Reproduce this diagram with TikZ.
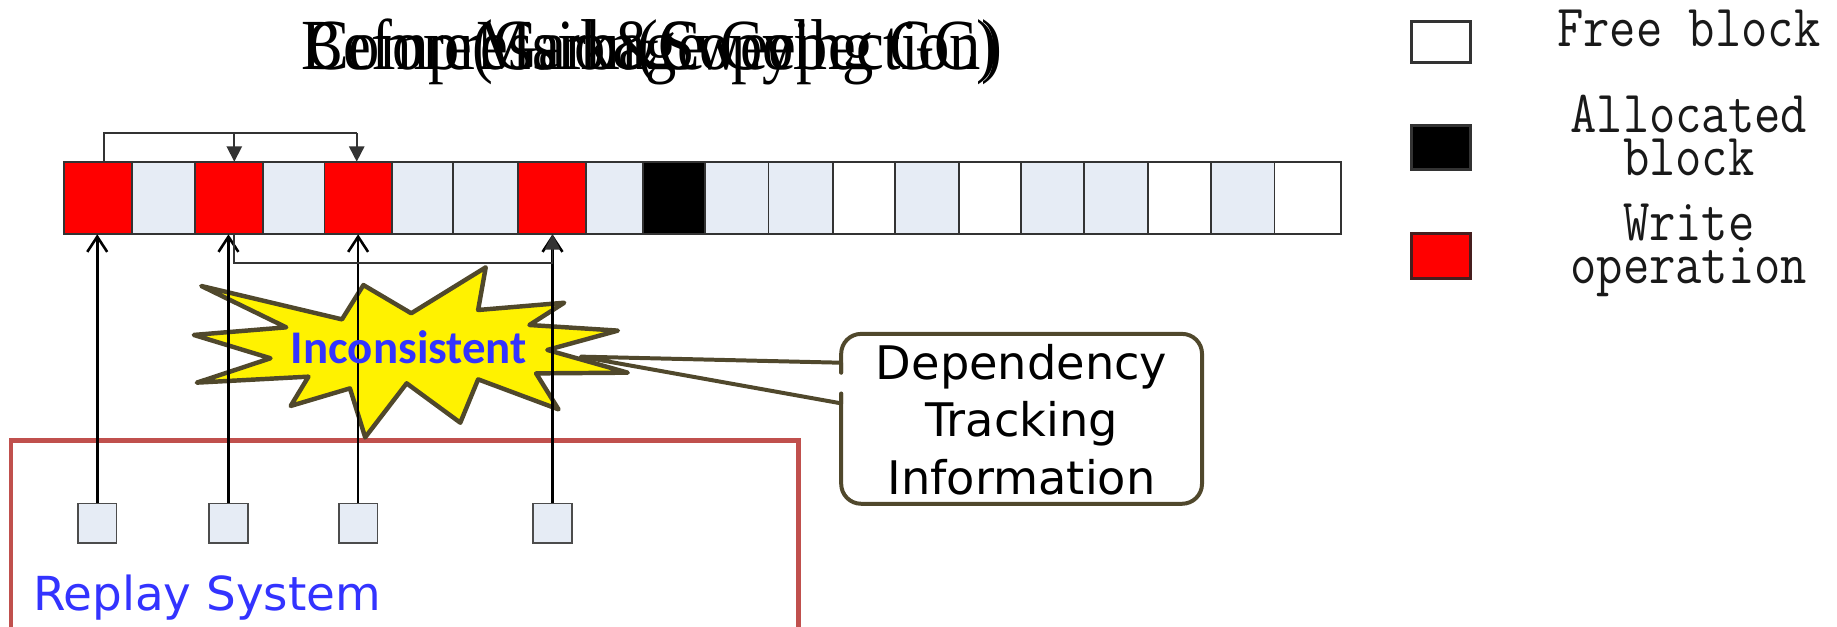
\documentclass[tikz,border=0pt]{standalone}
\usepackage{fontspec}
\usetikzlibrary{arrows.meta,calc}
\newfontfamily\serifT{Liberation Serif}
\newfontfamily\dejavu{DejaVu Sans}
\newfontfamily\carl{Carlito}
\definecolor{lightc}{RGB}{230,236,245}
\definecolor{olivec}{RGB}{80,72,44}
\definecolor{bluet}{RGB}{51,51,255}
\definecolor{boxred}{RGB}{192,80,77}
\begin{document}
\begin{tikzpicture}[x=1pt,y=-1pt,
  cellb/.style={draw=black!80, line width=1.5pt, minimum height=62pt, inner sep=0pt, outer sep=0pt},
  sqb/.style={draw=black!70, fill=lightc, line width=1.5pt, minimum width=33pt, minimum height=34pt, inner sep=0pt},
  legbox/.style={draw=black!80, line width=2.5pt, minimum width=50pt, inner sep=0pt},
  legt/.style={font=\ttfamily\fontsize{43.6}{31.6}\selectfont, text=black!90, inner sep=0pt, anchor=base},
  titlet/.style={font=\serifT\fontsize{53.4}{60}\selectfont, inner sep=0pt, anchor=base},
  thinl/.style={line width=1.5pt, draw=black!80},
  tri/.style={-{Triangle[length=13pt,width=13pt]}},
  uparr/.style={line width=2.2pt, -{Straight Barb[length=13pt,width=17pt,line width=2.2pt]}},
  starb/.style={draw=olivec, fill=yellow, line width=3.8pt, line join=round},
  callout/.style={draw=olivec, line width=3.4pt, line join=round, line cap=round},
  replaybox/.style={draw=boxred, line width=3.5pt}
]
\useasboundingbox (0,0) rectangle (1568,535);

% title (overlapping texts)
\node[titlet] (t1) at (556.5,59) {\scalebox{1}[1.15]{Before(Garbage Collection)}};
\node[titlet] (t2) at (556.5,59) {\scalebox{1}[1.15]{Mark\&Sweep}};
\node[titlet] (t3) at (556.5,59) {\scalebox{1}[1.15]{Compression(Copying GC)}};

% replay system box
\draw[replaybox] (9.5,545) -- (9.5,376) -- (681.6,376) -- (681.6,545);
\node[font=\dejavu\fontsize{40}{48}\selectfont, text=bluet, anchor=base west, inner sep=0pt] (rs) at (28,520.7) {Replay System};

% block row
\foreach \i/\l/\r/\f in {1/54.5/112.4/red, 2/112.4/166.5/lightc, 3/166.5/224.8/red, 4/224.8/277/lightc,
  5/277/334.6/red, 6/334.6/386.7/lightc, 7/386.7/442/lightc, 8/442/500/red, 9/500/548.8/lightc,
  10/548.8/602/black, 11/602/655.9/lightc, 12/655.9/711/lightc, 13/711/764.1/white, 14/764.1/818.5/lightc,
  15/818.5/871.5/white, 16/871.5/925.4/lightc, 17/925.4/979.7/lightc, 18/979.7/1033.6/white,
  19/1033.6/1087.9/lightc, 20/1087.9/1144.3/white}
  \node[cellb, fill=\f, minimum width={(\r-\l)*1pt}] (c\i) at ({(\l+\r)/2},169) {};

% top dependency connector
\coordinate (tk) at (88.8,113.8);
\coordinate (a3) at (200,113.8);
\coordinate (a5) at (304.5,113.8);
\draw[thinl] (tk |- c1.north) -- (tk) -- (a5);
\draw[thinl, tri] (a3) -- (a3 |- c3.north);
\draw[thinl, tri] (a5) -- (a5 |- c5.north);

% starburst
\draw[starb] (171.8,244.1) -- (291.9,272.6) -- (310.2,243.3) -- (351.0,267.4) -- (414.6,228.2)
  -- (408.1,264.6) -- (481.6,258.4) -- (451.9,277.4) -- (527.4,282.2) -- (467.2,298.7)
  -- (535.8,318.1) -- (457.6,318.7) -- (476.7,349.4) -- (408.1,323.8) -- (392.9,360.8)
  -- (347.1,327.2) -- (311.7,373.3) -- (298.7,331.5) -- (248.1,346.5) -- (263.3,321.5)
  -- (168.0,326.6) -- (230.9,305.8) -- (165.4,285.9) -- (244.3,279.4) -- cycle;

% replay squares and write arrows
\node[sqb] (s1) at (83,446.7) {};
\node[sqb] (s2) at (195,446.7) {};
\node[sqb] (s3) at (305.7,446.7) {};
\node[sqb] (s4) at (471.6,446.7) {};
\draw[uparr] (s1.north) -- (s1.north |- c1.south);
\draw[uparr] (s2.north) -- (s2.north |- c3.south);
\draw[uparr] (s3.north) -- (s3.north |- c5.south);
\draw[uparr] (s4.north) -- (s4.north |- c8.south);

% lower dependency connector
\coordinate (b3) at (200,224.2);
\coordinate (b8) at (471.6,224.2);
\draw[thinl, tri] (b3 |- c3.south) -- (b3) -- (b8) -- (b8 |- c8.south);

\node[font=\carl\bfseries\fontsize{40}{46}\selectfont, text=bluet, anchor=base, inner sep=0pt] (inc) at (349,310) {Inconsistent};

% callout
\draw[callout, rounded corners=17pt] (718,318) -- (718,285) -- (1026,285) -- (1026,430) -- (718,430) -- (718,336);
\draw[callout] (718,318) -- (718,309.6) -- (495.7,304.4) -- (718,344.3) -- (718,336);
\node[font=\dejavu\fontsize{39.5}{49}\selectfont, text width=320pt, align=center, anchor=base, inner sep=0pt] (dti) at (872,324) {Dependency\\Tracking\\Information};

% legend
\node[legbox, fill=white, minimum height=35pt] (lw) at (1230,35.5) {};
\node[legbox, fill=black, minimum height=38pt] (lb) at (1230,126) {};
\node[legbox, fill=red, draw={rgb,255:red,70;green,30;blue,30}, minimum height=39pt] (lr) at (1230,218.5) {};
\node[legt] (lft) at (1441.5,39.8) {\scalebox{1}[1.17]{Free block}};
\node[legt] (lat) at (1441.5,113.2) {\scalebox{1}[1.17]{\parbox[t]{260pt}{\centering\fontsize{43.6}{31.6}\selectfont\lineskiplimit=-100pt Allocated\\block}}};
\node[legt] (lwt) at (1441.5,204.9) {\scalebox{1}[1.17]{\parbox[t]{260pt}{\centering\fontsize{43.6}{31.6}\selectfont\lineskiplimit=-100pt Write\\operation}}};
\end{tikzpicture}
\end{document}
